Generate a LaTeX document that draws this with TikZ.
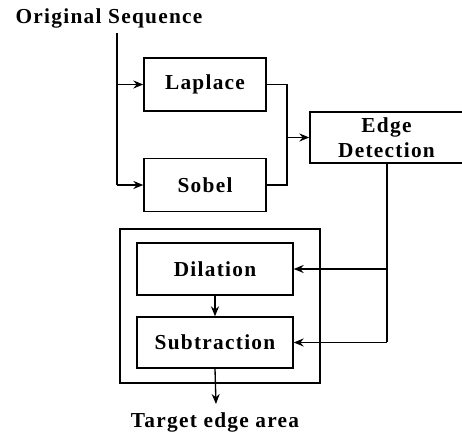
\documentclass[tikz,border=0pt]{standalone}
\usepackage{fontspec}
\setmainfont{Liberation Serif}
\newfontfamily\widefont[LetterSpace=6]{Liberation Serif}
\usetikzlibrary{arrows.meta, positioning}

\tikzset{
  blockbox/.style={draw, minimum width=#1, inner sep=0pt, align=center,
    font=\widefont\fontsize{16}{19}\selectfont\bfseries},
  blockbox/.default=91.5pt,
  label text/.style={font=\widefont\fontsize{16}{19}\selectfont\bfseries, inner sep=0pt}
}

\begin{document}
\begin{tikzpicture}[x=0.75pt, y=-0.75pt, >={Stealth[length=7.5pt,width=6pt]}, line width=1pt]

    \clip (0,0) rectangle (462,434);

    \node[label text] (orig) at (109,18) {Original Sequence};
    \coordinate (top) at (117,33);

    \node[blockbox, minimum height=39.75pt] (laplace) at (205,84.5) {Laplace};
    \node[blockbox, minimum height=39.75pt] (sobel) at (205,185) {Sobel};
    \node[blockbox=114.75pt, minimum height=38.25pt] (edge) at (386.5,137.5) {Edge\\Detection};

    \draw (120,229) rectangle (320,383);
    \node[blockbox=117pt, minimum height=39pt] (dilation) at (215,269) {Dilation};
    \node[blockbox=117pt, minimum height=38.25pt] (subtr) at (215,342.5) {Subtraction};

    \node[label text] (target) at (215,422) {Target edge area};
    \coordinate (out) at (216,404);

    % input split
    \draw (top) -- (top |- sobel.west);
    \draw[->] (top |- laplace.west) -- (laplace.west);
    \draw[->] (top |- sobel.west) -- (sobel.west);

    % merge into edge detection
    \coordinate (merge) at (287,137.5);
    \draw (laplace.east) -| (merge) |- (sobel.east);
    \draw[->] (merge) -- (edge.west);

    % morphology
    \coordinate (down) at (387,342.5);
    \draw (edge.south -| down) -- (down);
    \draw[->] (down) -- (subtr.east);
    \draw[->] (down |- dilation.east) -- (dilation.east);
    \draw[->] (dilation.south) -- (subtr.north);
    \draw[->] (subtr.south) -- (out);

\end{tikzpicture}
\end{document}
